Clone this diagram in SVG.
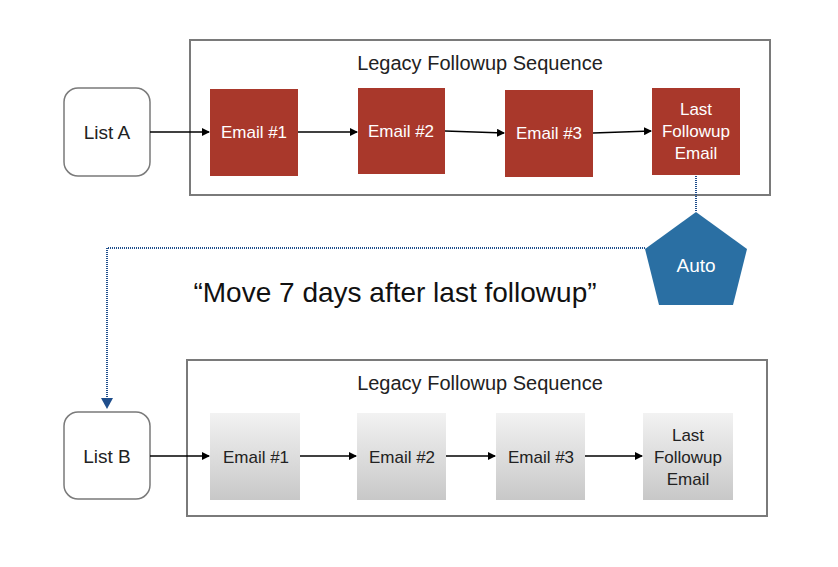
<svg xmlns="http://www.w3.org/2000/svg" width="838" height="567" viewBox="0 0 838 567">
<style>
text{font-family:"Liberation Sans",Arial,sans-serif;text-anchor:middle}
.cont{fill:#fff;stroke:#7a7a7a;stroke-width:2}
.list{fill:#fff;stroke:#7a7a7a;stroke-width:1.5}
.red{fill:#a9382b}
.gray{fill:url(#g)}
.c{stroke:#000;stroke-width:1.5;fill:none;marker-end:url(#a)}
.w{fill:#fff;font-size:17px}
.k{fill:#222;font-size:17px}
</style>
<defs>
<linearGradient id="g" x1="0" y1="0" x2="0" y2="1"><stop offset="0" stop-color="#f2f2f2"/><stop offset="1" stop-color="#c8c8c8"/></linearGradient>
<marker id="a" markerWidth="8" markerHeight="8" refX="7" refY="4" orient="auto" markerUnits="userSpaceOnUse"><path d="M0,0 L8,4 L0,8z" fill="#000"/></marker>
<marker id="b" markerWidth="12" markerHeight="12" refX="6" refY="10" orient="0" markerUnits="userSpaceOnUse"><path d="M0,0 L12,0 L6,11z" fill="#1f4e8c"/></marker>
</defs>
<g id="top-seq"><rect class="cont" x="190" y="40" width="580" height="155"/><text x="480" y="70" font-size="20" fill="#222">Legacy Followup Sequence</text></g>
<g id="bottom-seq"><rect class="cont" x="187" y="360" width="580" height="156"/><text x="480" y="390" font-size="20" fill="#222">Legacy Followup Sequence</text></g>
<g id="listA"><rect class="list" x="64" y="88" width="86" height="88" rx="14"/><text x="107" y="139" font-size="19" fill="#222">List A</text></g>
<g id="listB"><rect class="list" x="64" y="412" width="86" height="87" rx="14"/><text x="107" y="463" font-size="19" fill="#222">List B</text></g>
<g id="a1"><rect class="red" x="210" y="89" width="88" height="87"/><text class="w" x="254" y="138">Email #1</text></g>
<g id="a2"><rect class="red" x="358" y="88" width="87" height="86"/><text class="w" x="401" y="137">Email #2</text></g>
<g id="a3"><rect class="red" x="505" y="90" width="88" height="87"/><text class="w" x="549" y="139">Email #3</text></g>
<g id="a4"><rect class="red" x="652" y="88" width="88" height="87"/><text class="w" x="696" y="115">Last</text><text class="w" x="696" y="137">Followup</text><text class="w" x="696" y="159">Email</text></g>
<g id="b1"><rect class="gray" x="210" y="413" width="90" height="87"/><text class="k" x="256" y="463">Email #1</text></g>
<g id="b2"><rect class="gray" x="357" y="413" width="89" height="87"/><text class="k" x="402" y="463">Email #2</text></g>
<g id="b3"><rect class="gray" x="496" y="413" width="89" height="87"/><text class="k" x="541" y="463">Email #3</text></g>
<g id="b4"><rect class="gray" x="643" y="413" width="90" height="87"/><text class="k" x="688" y="441">Last</text><text class="k" x="688" y="463">Followup</text><text class="k" x="688" y="485">Email</text></g>
<g id="auto"><polygon points="696,212 747,249 733,305 659,305 645,249" fill="#2a6fa3"/><text x="696" y="272" font-size="19" fill="#fff">Auto</text></g>
<text x="395" y="302" font-size="28" fill="#111">“Move 7 days after last followup”</text>
<g id="connectors">
<path class="c" d="M150,132 H209"/>
<path class="c" d="M298,132 H357"/>
<path class="c" d="M445,131 L504,133"/>
<path class="c" d="M593,133 L651,131"/>
<path class="c" d="M150,456 H209"/>
<path class="c" d="M300,456 H356"/>
<path class="c" d="M446,456 H495"/>
<path class="c" d="M585,456 H642"/>
<path d="M696,176 V212" stroke="#1f4e8c" stroke-width="2" stroke-dasharray="1 1" fill="none"/>
<path d="M645,248 H107 V408" stroke="#1f4e8c" stroke-width="2" stroke-dasharray="1 1" fill="none" marker-end="url(#b)"/>
</g>
</svg>
